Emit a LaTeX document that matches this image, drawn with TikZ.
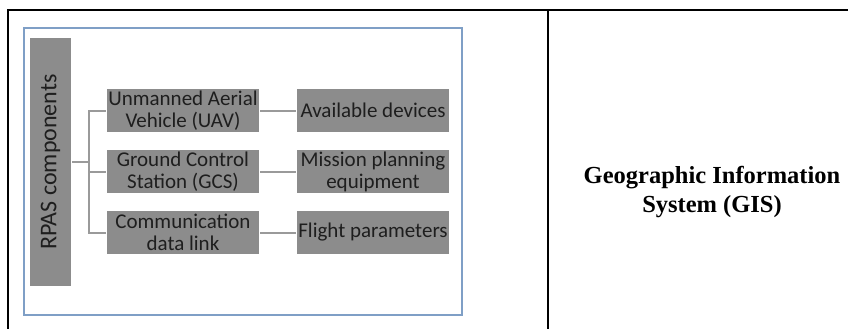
\documentclass[tikz,border=0pt]{standalone}
\usepackage{fontspec}
\setmainfont{Carlito}
\newfontfamily\gisfont{Liberation Serif}
\usepackage{tikz}
\usetikzlibrary{positioning}
\definecolor{boxgray}{HTML}{8C8C8C}
\definecolor{linkgray}{HTML}{9A9A9A}
\definecolor{frameblue}{HTML}{7F9FC6}
\definecolor{textdark}{HTML}{1E1E1E}

\begin{document}
\begin{tikzpicture}[x=1pt,y=-1pt,
  part/.style={fill=boxgray, draw=black!12, double=white, double distance=1.2pt,
    minimum width=154pt, minimum height=45pt, inner sep=0pt, align=center,
    text=textdark, font=\fontsize{21}{22}\selectfont},
  link/.style={draw=linkgray, line width=2pt}
  ]
\useasboundingbox (0,0) rectangle (848,329);

% table lines
\draw[line width=2pt] (8,329) -- (8,10) -- (848,10);
\draw[line width=2pt] (548,10) -- (548,329);

% picture frame
\draw[frameblue, line width=1.5pt] (24,28) rectangle (462,315);

\node[part, minimum width=43pt, minimum height=250pt,
  font=\fontsize{24}{26}\selectfont] (rpas) at (50.5,162) {\rotatebox{90}{RPAS components}};

\node[part] (uav) at (183,110.5) {Unmanned Aerial\\Vehicle (UAV)};
\node[part, below=15.6pt of uav] (gcs) {Ground Control\\Station (GCS)};
\node[part, below=15.6pt of gcs] (cdl) {Communication\\data link};

\node[part, right=35.6pt of uav] (dev) {Available devices};
\node[part, right=35.6pt of gcs] (mpe) {Mission planning\\equipment};
\node[part, right=35.6pt of cdl] (fpar) {Flight parameters};

\draw[link] (rpas.east) -- ++(17,0) coordinate (fork);
\draw[link] (uav.west) -| (fork) |- (cdl.west);
\draw[link] (fork |- gcs.west) -- (gcs.west);
\draw[link] (uav) -- (dev);
\draw[link] (gcs) -- (mpe);
\draw[link] (cdl) -- (fpar);

\node[font=\gisfont\bfseries\fontsize{24.5}{29.5}\selectfont, align=center] (gis)
  at (712,192) {Geographic Information\\System (GIS)};

\end{tikzpicture}
\end{document}
